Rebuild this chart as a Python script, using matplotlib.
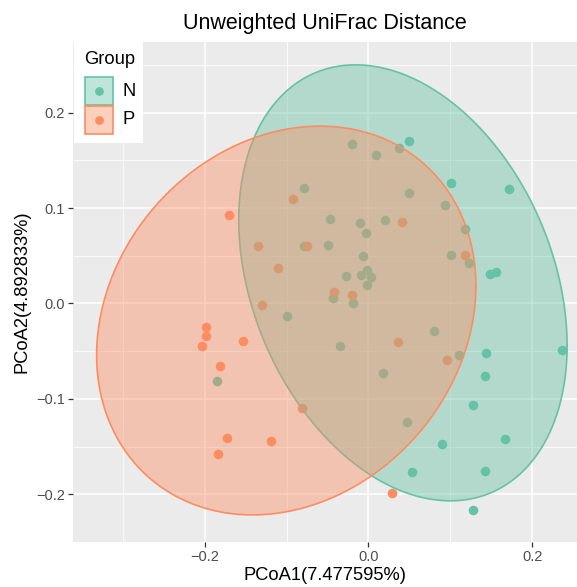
import numpy as np
import matplotlib
matplotlib.use("Agg")
from matplotlib import pyplot as plt
from matplotlib.patches import Rectangle
from matplotlib.lines import Line2D

plt.rcParams['font.family'] = ['Liberation Sans', 'DejaVu Sans']

# PCoA coordinates
n_x = [0.0494, 0.0376, 0.1002, 0.171, 0.118, 0.148, 0.1555, 0.2356, 0.1429, 0.142,
       0.128, 0.166, 0.090, 0.1424, 0.0527, 0.1274,
       -0.0198, 0.0095, -0.0783, 0.0498, 0.0929, -0.0473, -0.0100, 0.0198, -0.0027,
       -0.0787, -0.049, 0.101, 0.122, -0.0067, -0.0015, -0.0278, -0.0091, 0.003,
       -0.0022, -0.043, -0.0189, -0.0344, 0.0795, 0.1107, 0.0177, 0.0466, -0.0994,
       -0.1848]
n_y = [0.1706, 0.163, 0.1263, 0.120, 0.0779, 0.031, 0.0328, -0.0492, -0.0523, -0.0765,
       -0.1066, -0.142, -0.1475, -0.1755, -0.177, -0.2167,
       0.1668, 0.1554, 0.1208, 0.1159, 0.1031, 0.0886, 0.0841, 0.0879, 0.0737,
       0.0598, 0.0616, 0.0509, 0.0426, 0.0498, 0.0346, 0.0287, 0.0294, 0.028,
       0.019, 0.0058, 0.0003, -0.045, -0.029, -0.0537, -0.0731, -0.1243, -0.0132,
       -0.081]
p_x = [-0.042, -0.0198, 0.036, 0.0961, 0.029, -0.0815, 0.0405, 0.1177, -0.0754,
       -0.1705, -0.0924, -0.1344, -0.110, -0.1295, -0.1985, -0.1982, -0.2034,
       -0.1527, -0.1807, -0.1726, -0.1193, -0.1835]
p_y = [0.0125, 0.0089, -0.0402, -0.0592, -0.1988, -0.1098, 0.0851, 0.0505, 0.0598,
       0.0927, 0.1093, 0.0598, 0.0367, -0.002, -0.0246, -0.0336, -0.0447,
       -0.0398, -0.0654, -0.1409, -0.144, -0.1575]

# ellipse centre and shape matrix [[xx, xy], [xy, yy]] per group
n_center = [0.042, 0.0216]
n_shape = [[0.0401, -0.0132], [-0.0132, 0.0522]]
p_center = [-0.1003, -0.0179]
p_shape = [[0.0535, 0.0084], [0.0084, 0.0415]]

groups = ['N', 'P']
colors = {'N': '#66C2A5', 'P': '#FC8D62'}


def ellipse_xy(center, shape):
    t = np.linspace(0, 2 * np.pi, 300)
    L = np.linalg.cholesky(np.array(shape))
    pts = L @ np.vstack([np.cos(t), np.sin(t)])
    return pts[0] + center[0], pts[1] + center[1]


W, H = 577, 587
fig = plt.figure(figsize=(W / 100, H / 100), dpi=100)
ax = fig.add_axes([73 / W, 45 / H, 504 / W, 500 / H])
ax.set_facecolor('#EBEBEB')

ax.scatter(n_x, n_y, s=48, color=colors['N'], linewidths=0, zorder=2)
ax.scatter(p_x, p_y, s=48, color=colors['P'], linewidths=0, zorder=2)

for g, c, m, z in [('N', n_center, n_shape, 3), ('P', p_center, p_shape, 4)]:
    ex, ey = ellipse_xy(c, m)
    ax.fill(ex, ey, color=colors[g], alpha=0.42, linewidth=0, zorder=z)
    ax.plot(ex, ey, color=colors[g], lw=1.2, zorder=z)

ax.set_xlim(-0.3604, 0.2543)
ax.set_ylim(-0.248, 0.274)
ax.set_xticks([-0.2, 0.0, 0.2])
ax.set_xticklabels(['\u22120.2', '0.0', '0.2'])
ax.set_xticks([-0.3, -0.1, 0.1], minor=True)
ax.set_yticks([-0.2, -0.1, 0.0, 0.1, 0.2])
ax.set_yticklabels(['\u22120.2', '\u22120.1', '0.0', '0.1', '0.2'])
ax.set_yticks([-0.25, -0.15, -0.05, 0.05, 0.15, 0.25], minor=True)
ax.grid(which='major', color='white', lw=1.1, zorder=0)
ax.grid(which='minor', color='white', lw=0.55, zorder=0)
ax.set_axisbelow(True)
for s in ax.spines.values():
    s.set_visible(False)
ax.tick_params(which='major', length=3.5, width=0.9, color='#333333',
               labelsize=10.5, labelcolor='#4D4D4D', pad=2.5)
ax.tick_params(which='minor', length=0)

ax.set_xlabel('PCoA1(7.477595%)', fontsize=13.2, color='black', labelpad=2)
ax.set_ylabel('PCoA2(4.892833%)', fontsize=13.2, color='black', labelpad=4)
ax.set_title('Unweighted UniFrac Distance', fontsize=15.5, color='black', pad=9)


# legend built by hand, in pixel positions of the figure
def fx(px):
    return px / W


def fy(py):
    return 1 - py / H


fig.add_artist(Rectangle((fx(74), fy(143)), 69 / W, 101 / H, transform=fig.transFigure,
                         facecolor='white', edgecolor='none', zorder=5))
fig.text(fx(84), fy(59), 'Group', fontsize=13.2, va='center', ha='left', zorder=6)
for i, g in enumerate(groups):
    top = 77.5 + i * 29
    fig.add_artist(Rectangle((fx(84.5), fy(top + 27)), 28 / W, 27 / H,
                             transform=fig.transFigure, facecolor=colors[g], alpha=0.42,
                             edgecolor='none', zorder=6))
    fig.add_artist(Rectangle((fx(84.5), fy(top + 27)), 28 / W, 27 / H,
                             transform=fig.transFigure, facecolor='none',
                             edgecolor=colors[g], lw=1.2, zorder=7))
    fig.add_artist(Line2D([fx(98.5)], [fy(top + 13.5)], marker='o', markersize=6.3,
                          markeredgewidth=0, color=colors[g], transform=fig.transFigure,
                          zorder=8))
    fig.text(fx(122), fy(top + 13.5), g, fontsize=13.2, va='center', ha='left', zorder=6)

fig.savefig('out.png', dpi=100)
